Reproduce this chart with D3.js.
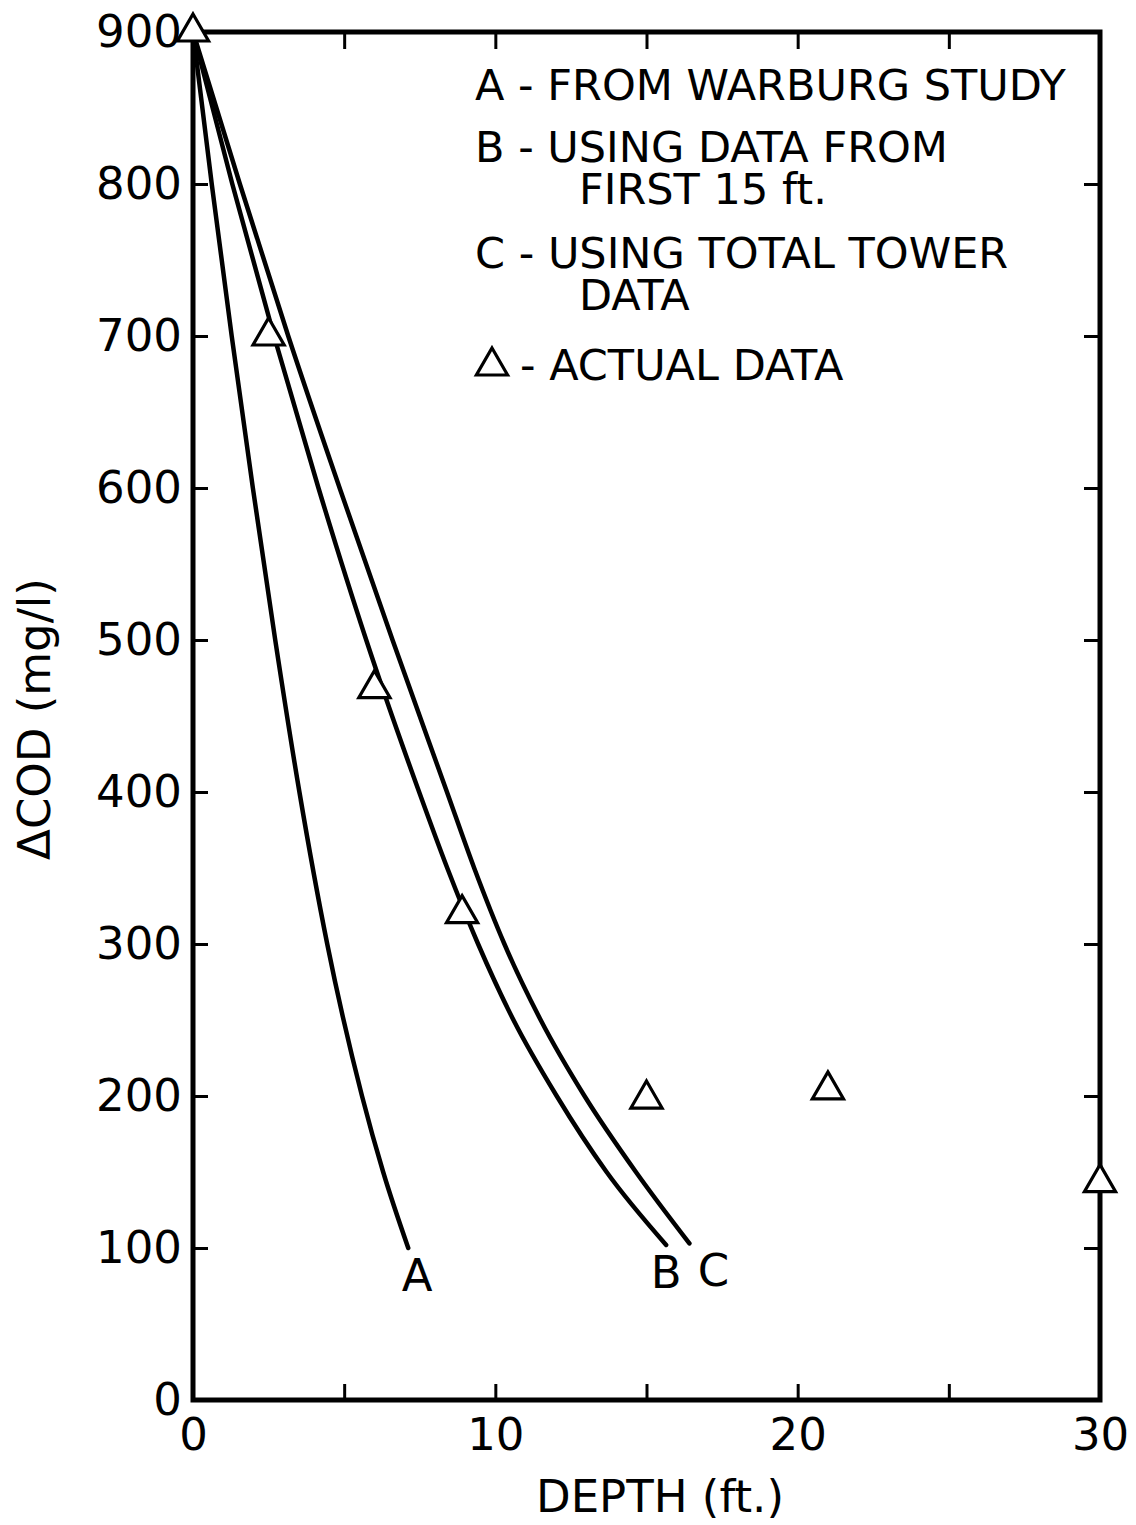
<!DOCTYPE html>
<html>
<head>
<meta charset="utf-8">
<script src="https://cdn.jsdelivr.net/npm/d3@7"></script>
<style>
  body { margin: 0; background: #fff; }
  text { font-family: "DejaVu Sans", sans-serif; fill: #000; }
</style>
</head>
<body>
<div id="chart"></div>
<script>
// values (COD in mg/l, depth in ft)

// curve A - from Warburg study
const depthA = [0, 0.62, 1.28, 1.98, 2.72, 3.52, 4.44, 5.59, 6.29, 7.12];
const codA   = [900, 800, 700, 600, 500, 400, 300, 200, 150, 100];

// curve B - using data from first 15 ft.
const depthB = [0, 1.3, 2.68, 4.15, 5.73, 7.48, 8.41, 9.43, 10.6, 12.03, 13.68, 15.65];
const codB   = [900, 800, 700, 600, 500, 400, 350, 300, 250, 200, 150, 102];

// curve C - using total tower data
const depthC = [0, 1.55, 3.15, 4.85, 6.6, 8.4, 9.3, 10.3, 11.5, 12.95, 14.65, 16.42];
const codC   = [900, 800, 700, 600, 500, 400, 350, 300, 250, 200, 150, 103];

// actual data (triangles)
const depthActual = [0, 2.5, 6, 8.9, 15, 21, 30];
const codActual   = [900, 700, 468, 320, 198, 204, 143];

const xTicks = [0, 5, 10, 15, 20, 25, 30];
const xTickLabels = [0, 10, 20, 30];
const yTicks = [0, 100, 200, 300, 400, 500, 600, 700, 800, 900];

// legend entries, second line of an entry is indented
const legendEntries = [
  ["A - FROM WARBURG STUDY"],
  ["B - USING DATA FROM", "FIRST 15 ft."],
  ["C - USING TOTAL TOWER", "DATA"]
];

// Dimensions of chart.
const margin = { top: 32, right: 36, bottom: 125, left: 193 },
      width = 1136 - margin.left - margin.right,
      height = 1525 - margin.top - margin.bottom;

const svg = d3.select("#chart").append("svg")
    .attr("width", width + margin.left + margin.right)
    .attr("height", height + margin.top + margin.bottom)
    .style("background", "#fff")
    .append("g")
    .attr("transform", "translate(" + margin.left + "," + margin.top + ")");

const x = d3.scaleLinear().domain([0, 30]).range([0, width]),
      y = d3.scaleLinear().domain([0, 900]).range([height, 0]);

const fontSize = 45;

// axes, ticks point inward
const xAxis = d3.axisBottom(x).tickValues(xTicks).tickSize(-16).tickPadding(18)
    .tickFormat(d => xTickLabels.includes(d) ? d : "");
const xAxisTop = d3.axisTop(x).tickValues(xTicks).tickSize(-17).tickFormat("");
const yAxis = d3.axisLeft(y).tickValues(yTicks).tickSize(-15).tickPadding(11);
const yAxisRight = d3.axisRight(y).tickValues(yTicks).tickSize(-16).tickFormat("");

function styleAxis(g) {
  g.select(".domain").remove();
  g.selectAll(".tick line").attr("stroke", "#000").attr("stroke-width", 3);
  g.selectAll(".tick text").style("font-size", fontSize + "px").attr("fill", "#000");
}

svg.append("g").attr("transform", "translate(0," + height + ")").call(xAxis).call(styleAxis);
svg.append("g").call(xAxisTop).call(styleAxis);
svg.append("g").call(yAxis).call(styleAxis);
svg.append("g").attr("transform", "translate(" + width + ",0)").call(yAxisRight).call(styleAxis);

// frame
svg.append("rect")
    .attr("x", 0).attr("y", 0)
    .attr("width", width).attr("height", height)
    .attr("fill", "none")
    .attr("stroke", "#000")
    .attr("stroke-width", 5);

// curves
const line = d3.line()
    .x(d => x(d[0]))
    .y(d => y(d[1]))
    .curve(d3.curveMonotoneX);

const curves = [
  { name: "A", pts: d3.zip(depthA, codA), dx: 9 },
  { name: "B", pts: d3.zip(depthB, codB), dx: 0 },
  { name: "C", pts: d3.zip(depthC, codC), dx: 24 }
];

svg.selectAll("path.curve")
    .data(curves)
    .join("path")
    .attr("class", "curve")
    .attr("d", d => line(d.pts))
    .attr("fill", "none")
    .attr("stroke", "#000")
    .attr("stroke-width", 4.5)
    .attr("stroke-linecap", "round")
    .attr("stroke-linejoin", "round");

// curve labels just below each end
svg.selectAll("text.curve-label")
    .data(curves)
    .join("text")
    .attr("class", "curve-label")
    .attr("x", d => x(d.pts[d.pts.length - 1][0]) + d.dx)
    .attr("y", d => y(d.pts[d.pts.length - 1][1]) + 43)
    .attr("text-anchor", "middle")
    .style("font-size", fontSize + "px")
    .text(d => d.name);

// actual data triangles
const tri = d3.symbol().type(d3.symbolTriangle).size(421);

svg.selectAll("path.actual")
    .data(d3.zip(depthActual, codActual))
    .join("path")
    .attr("class", "actual")
    .attr("d", tri)
    .attr("transform", d => "translate(" + x(d[0]) + "," + y(d[1]) + ")")
    .attr("fill", "#fff")
    .attr("stroke", "#000")
    .attr("stroke-width", 3.2);

// legend
const legend = svg.append("g").attr("transform", "translate(" + (475 - margin.left) + "," + (100 - margin.top) + ")");
const legendY = [0, 62, 168];

legend.selectAll("text")
    .data(legendEntries)
    .join("text")
    .attr("y", (d, i) => legendY[i])
    .style("font-size", "43px")
    .selectAll("tspan")
    .data(d => d)
    .join("tspan")
    .attr("x", (d, i) => i ? 104 : 0)
    .attr("dy", (d, i) => i ? 42 : 0)
    .text(d => d);

legend.append("path")
    .attr("d", tri)
    .attr("transform", "translate(17,266)")
    .attr("fill", "#fff")
    .attr("stroke", "#000")
    .attr("stroke-width", 3.2);

legend.append("text")
    .attr("x", 45)
    .attr("y", 280)
    .style("font-size", "43px")
    .text("- ACTUAL DATA");

// axis titles
svg.append("text")
    .attr("x", 660 - margin.left)
    .attr("y", 1512 - margin.top)
    .attr("text-anchor", "middle")
    .style("font-size", fontSize + "px")
    .text("DEPTH (ft.)");

svg.append("text")
    .attr("transform", "translate(" + (50 - margin.left) + "," + (719 - margin.top) + ") rotate(-90)")
    .attr("text-anchor", "middle")
    .style("font-size", fontSize + "px")
    .text("ΔCOD (mg/l)");
</script>
</body>
</html>
